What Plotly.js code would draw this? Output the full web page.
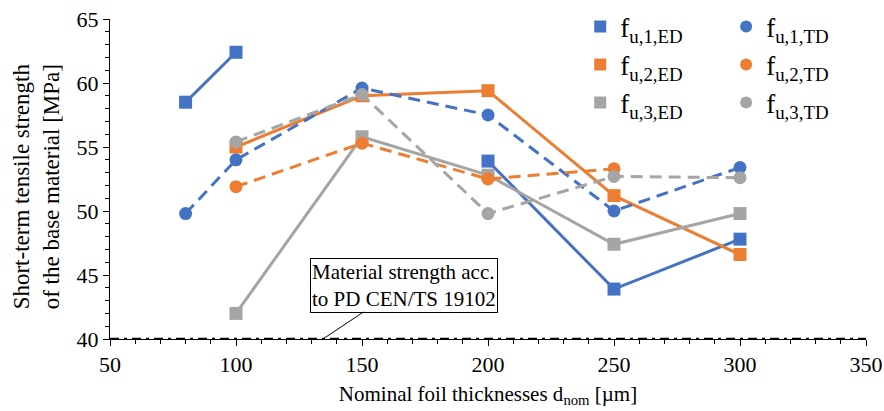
<!DOCTYPE html>
<html>
<head>
<meta charset="utf-8">
<script src="https://cdn.plot.ly/plotly-3.0.1.min.js"></script>
<style>html,body{margin:0;padding:0;background:#fff;}#chart{width:884px;height:411px;}</style>
</head>
<body>
<div id="chart"></div>
<script>
// Nominal foil thickness [µm]
const thickness = [80, 100, 150, 200, 250, 300];
// Short-term tensile strength [MPa]
const fu1ED = [58.5, 62.4, null, 53.9, 43.9, 47.8];
const fu2ED = [null, 55.0, 59.0, 59.4, 51.2, 46.6];
const fu3ED = [null, 42.0, 55.8, 52.8, 47.4, 49.8];
const fu1TD = [49.8, 54.0, 59.6, 57.5, 50.0, 53.4];
const fu2TD = [null, 51.9, 55.3, 52.5, 53.3, null];
const fu3TD = [null, 55.4, 59.1, 49.8, 52.7, 52.6];
// Material strength acc. to PD CEN/TS 19102
const refX = [50, 350];
const refStrength = [40, 40];

const names = {
  fu1ED: 'f<sub>u,1,ED</sub>', fu2ED: 'f<sub>u,2,ED</sub>', fu3ED: 'f<sub>u,3,ED</sub>',
  fu1TD: 'f<sub>u,1,TD</sub>', fu2TD: 'f<sub>u,2,TD</sub>', fu3TD: 'f<sub>u,3,TD</sub>'
};
const BLUE = '#4472C4', ORANGE = '#ED7D31', GRAY = '#A5A5A5';
const FONT = '"Liberation Serif", "Times New Roman", serif';

function series(y, color, dashed, symbol) {
  return {
    x: thickness, y: y, type: 'scatter', mode: 'lines+markers',
    connectgaps: false, showlegend: false, cliponaxis: false,
    line: {color: color, width: 3, dash: dashed ? '12px,7px' : 'solid'},
    marker: {color: color, size: 13, symbol: symbol}
  };
}
function legendItem(name, color, symbol, legend) {
  return {
    x: [null], y: [null], type: 'scatter', mode: 'markers', name: name,
    legend: legend, marker: {color: color, size: 11, symbol: symbol}
  };
}

const data = [
  {x: refX, y: refStrength, type: 'scatter', mode: 'lines', showlegend: false,
   line: {color: '#000', width: 2.5, dash: '9px,5px,3px,5px'}},
  series(fu1ED, BLUE, false, 'square'),
  series(fu2ED, ORANGE, false, 'square'),
  series(fu3ED, GRAY, false, 'square'),
  series(fu1TD, BLUE, true, 'circle'),
  series(fu2TD, ORANGE, true, 'circle'),
  series(fu3TD, GRAY, true, 'circle'),
  legendItem(names.fu1ED, BLUE, 'square', 'legend'),
  legendItem(names.fu2ED, ORANGE, 'square', 'legend'),
  legendItem(names.fu3ED, GRAY, 'square', 'legend'),
  legendItem(names.fu1TD, BLUE, 'circle', 'legend2'),
  legendItem(names.fu2TD, ORANGE, 'circle', 'legend2'),
  legendItem(names.fu3TD, GRAY, 'circle', 'legend2')
];

const legendBase = {
  yanchor: 'top', y: 1.052, xanchor: 'left', bgcolor: 'rgba(0,0,0,0)',
  font: {family: FONT, size: 27, color: '#000'}, itemsizing: 'constant',
  tracegroupgap: 0
};

const layout = {
  width: 884, height: 411,
  margin: {l: 110, r: 18, t: 19, b: 72, autoexpand: false},
  paper_bgcolor: '#fff', plot_bgcolor: '#fff',
  font: {family: FONT, size: 22, color: '#000'},
  xaxis: {
    range: [50, 350], dtick: 50, tick0: 50, automargin: false,
    showgrid: false, zeroline: false,
    showline: true, linecolor: '#000', linewidth: 1,
    ticks: 'outside', ticklen: 6, tickcolor: '#000',
    minor: {dtick: 10, ticks: 'outside', ticklen: 4, tickcolor: '#000'},
    tickfont: {family: FONT, size: 22, color: '#000'},
    title: {text: 'Nominal foil thicknesses d<sub>nom</sub> [µm]',
            font: {family: FONT, size: 21, color: '#000'}, standoff: 9}
  },
  yaxis: {
    range: [40, 65], dtick: 5, automargin: false,
    showgrid: false, zeroline: false,
    showline: true, linecolor: '#000', linewidth: 1,
    ticks: 'outside', ticklen: 6, tickcolor: '#000',
    minor: {dtick: 1, ticks: 'outside', ticklen: 4, tickcolor: '#000'},
    tickfont: {family: FONT, size: 22, color: '#000'}
  },
  legend: Object.assign({}, legendBase, {x: 0.622}),
  legend2: Object.assign({}, legendBase, {x: 0.815}),
  annotations: [{
    xref: 'paper', yref: 'paper', x: -0.097, y: 0.476,
    xanchor: 'center', yanchor: 'middle', textangle: -90, showarrow: false,
    text: 'Short-term tensile strength<br>of the base material [MPa]',
    font: {family: FONT, size: 23, color: '#000'}
  }, {
    xref: 'x', yref: 'y', x: 134.5, y: 40,
    text: 'Material strength acc.<br>to PD CEN/TS 19102',
    align: 'left', showarrow: true, arrowhead: 0, arrowwidth: 1, arrowcolor: '#000',
    ax: 81, ay: -54,
    font: {family: FONT, size: 21, color: '#000'},
    bordercolor: '#000', borderwidth: 1, borderpad: 1, bgcolor: '#fff'
  }]
};

Plotly.newPlot('chart', data, layout, {displayModeBar: false, responsive: false});
</script>
</body>
</html>
